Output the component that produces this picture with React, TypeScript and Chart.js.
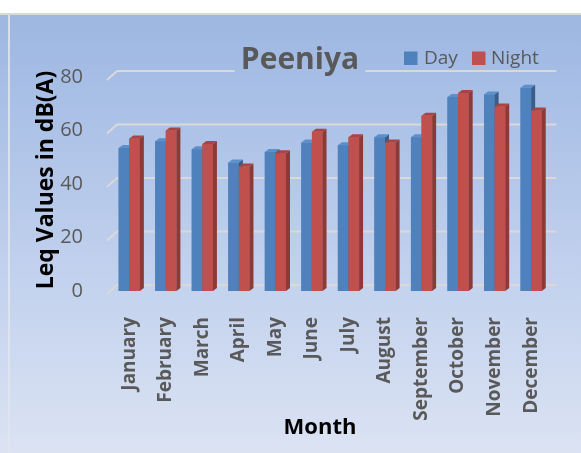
import React, { useEffect, useRef } from "react";
import { Chart, registerables } from "chart.js";

Chart.register(...registerables);

const months = [
  "January", "February", "March", "April", "May", "June",
  "July", "August", "September", "October", "November", "December",
];
const dayValues = [53.5, 56, 53, 48, 52, 55.5, 54.5, 57.5, 57.5, 72.5, 73.5, 76];
const nightValues = [57, 60, 55, 46.5, 51.5, 59.5, 57.5, 55.5, 65.5, 74, 69, 67.5];
const yTickValues = [0, 20, 40, 60, 80];
const chartTitle = "Peeniya";
const seriesNames = ["Day", "Night"];
const xTitle = "Month";
const yTitle = "Leq Values in dB(A)";

const FONT = '"Open Sans", "DejaVu Sans", sans-serif';
const DAY = { front: "#4f81bd", side: "#385d8a", top: "#5d8fcb" };
const NIGHT = { front: "#c0504d", side: "#8c3a37", top: "#a84542" };

function makeBg(ctx: CanvasRenderingContext2D, h: number) {
  const g = ctx.createLinearGradient(0, 0, 0, h);
  g.addColorStop(0, "#9db7e2");
  g.addColorStop(0.5, "#bccdec");
  g.addColorStop(1, "#dbe3f3");
  return g;
}

const bgPlugin = {
  id: "bg",
  beforeDraw(chart: any) {
    const { ctx, width, height } = chart;
    ctx.save();
    ctx.fillStyle = makeBg(ctx, height);
    ctx.fillRect(0, 0, width, height);
    ctx.fillStyle = "rgba(225,229,238,0.85)";
    ctx.fillRect(8, 0, 2, height);
    ctx.restore();
  },
};

const gridPlugin = {
  id: "grid3d",
  beforeDatasetsDraw(chart: any) {
    const { ctx, chartArea, scales } = chart;
    const ys = scales.y;
    ctx.save();
    ctx.strokeStyle = "#d9d9d9";
    ctx.lineWidth = 2;
    yTickValues.forEach((v) => {
      const y = ys.getPixelForValue(v);
      ctx.beginPath();
      ctx.moveTo(chartArea.left - 4, y + 3);
      ctx.lineTo(chartArea.left + 6, y - 6);
      ctx.lineTo(chartArea.right + 7, y - 6);
      ctx.stroke();
    });
    ctx.restore();
  },
};

function faces(ctx: CanvasRenderingContext2D, el: any, col: any) {
  const { x, y, base, width } = el.getProps(["x", "y", "base", "width"], true);
  const l = x - width / 2;
  const r = x + width / 2;
  const dx = 4;
  const dy = 3;
  ctx.fillStyle = col.front;
  ctx.fillRect(l, y, width, base - y);
  ctx.fillStyle = col.side;
  ctx.beginPath();
  ctx.moveTo(r, y);
  ctx.lineTo(r + dx, y - dy);
  ctx.lineTo(r + dx, base - dy);
  ctx.lineTo(r, base);
  ctx.closePath();
  ctx.fill();
  ctx.fillStyle = col.top;
  ctx.beginPath();
  ctx.moveTo(l, y);
  ctx.lineTo(l + dx, y - dy);
  ctx.lineTo(r + dx, y - dy);
  ctx.lineTo(r, y);
  ctx.closePath();
  ctx.fill();
}

const bar3dPlugin = {
  id: "bar3d",
  afterDatasetsDraw(chart: any) {
    const { ctx } = chart;
    const m0 = chart.getDatasetMeta(0);
    const m1 = chart.getDatasetMeta(1);
    ctx.save();
    for (let i = 0; i < months.length; i++) {
      faces(ctx, m0.data[i], DAY);
      faces(ctx, m1.data[i], NIGHT);
    }
    ctx.restore();
  },
};

const textPlugin = {
  id: "texts",
  afterDraw(chart: any) {
    const { ctx, height } = chart;
    ctx.save();
    ctx.font = `bold 30px ${FONT}`;
    const tw = ctx.measureText(chartTitle).width;
    ctx.fillStyle = makeBg(ctx, height);
    ctx.fillRect(300 - tw / 2 - 6, 22, tw + 12, 42);
    ctx.fillStyle = "#595959";
    ctx.textAlign = "center";
    ctx.textBaseline = "alphabetic";
    ctx.fillText(chartTitle, 300, 54);

    ctx.font = `19px ${FONT}`;
    ctx.textAlign = "left";
    ctx.fillStyle = DAY.front;
    ctx.fillRect(404, 36.5, 13.5, 13.5);
    ctx.fillStyle = "#595959";
    ctx.fillText(seriesNames[0], 424, 49);
    ctx.fillStyle = NIGHT.front;
    ctx.fillRect(472, 36.5, 13.5, 13.5);
    ctx.fillStyle = "#595959";
    ctx.fillText(seriesNames[1], 491, 49);

    ctx.fillStyle = "#000000";
    ctx.font = `bold 22px ${FONT}`;
    ctx.textAlign = "center";
    ctx.textBaseline = "middle";
    ctx.fillText(xTitle, 320, 413);
    ctx.font = `bold 23px ${FONT}`;
    ctx.translate(46, 165);
    ctx.rotate(-Math.PI / 2);
    ctx.fillText(yTitle, 0, 0);
    ctx.restore();
  },
};

export default function App() {
  const ref = useRef<HTMLCanvasElement | null>(null);
  useEffect(() => {
    if (!ref.current) return;
    const chart = new Chart(ref.current, {
      type: "bar",
      data: {
        labels: months,
        datasets: [
          { label: seriesNames[0], data: dayValues, backgroundColor: DAY.front },
          { label: seriesNames[1], data: nightValues, backgroundColor: NIGHT.front },
        ],
      },
      options: {
        responsive: false,
        animation: false,
        devicePixelRatio: 1,
        layout: { padding: { top: 62, right: 25.5, left: 0, bottom: 0 } },
        plugins: {
          legend: { display: false },
          title: { display: false },
          tooltip: { enabled: false },
        },
        datasets: { bar: { categoryPercentage: 0.58, barPercentage: 1 } },
        scales: {
          x: {
            grid: { display: false, drawTicks: false },
            border: { display: false },
            ticks: {
              minRotation: 90,
              maxRotation: 90,
              autoSkip: false,
              padding: 26,
              color: "#595959",
              font: { family: FONT, size: 19, weight: "bold" },
            },
            afterFit: (s: any) => {
              s.height = 162;
            },
          },
          y: {
            min: 0,
            max: 80,
            grid: { display: false, drawTicks: false },
            border: { display: false },
            ticks: {
              stepSize: 20,
              padding: 28,
              color: "#595959",
              font: { family: FONT, size: 20 },
            },
            afterFit: (s: any) => {
              s.width = 111;
            },
          },
        },
      } as any,
      plugins: [bgPlugin, gridPlugin, bar3dPlugin, textPlugin],
    });
    return () => chart.destroy();
  }, []);

  return (
    <div style={{ position: "fixed", left: 0, top: 0, width: 581, height: 453, background: "#ffffff", overflow: "hidden" }}>
      <div style={{ position: "absolute", left: 0, top: 13, width: 581, height: 2, background: "#d9d9d9" }} />
      <canvas
        ref={ref}
        width={581}
        height={438}
        style={{ position: "absolute", left: 0, top: 15, width: 581, height: 438, display: "block" }}
      />
    </div>
  );
}
